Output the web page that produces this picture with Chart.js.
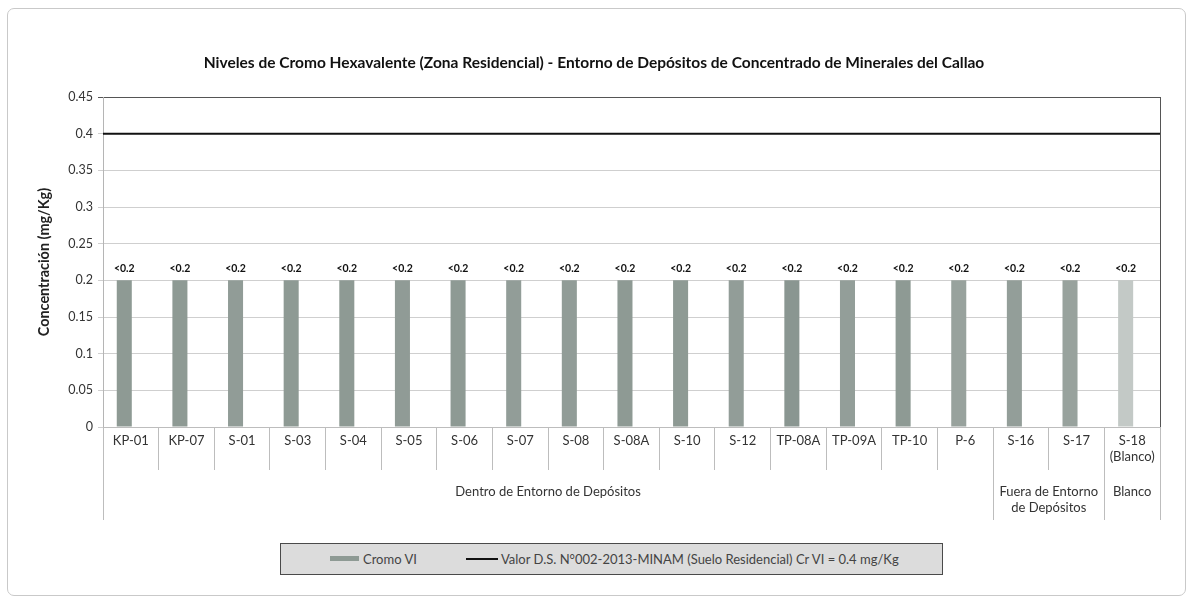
<!DOCTYPE html>
<html>
<head>
<meta charset="utf-8">
<script src="https://cdn.jsdelivr.net/npm/chart.js@4"></script>
<style>
  body { margin: 0; background: #fff; }
  #wrap { position: relative; width: 1193px; height: 604px; }
  #frame { position: absolute; left: 7px; top: 8px; width: 1177px; height: 586px;
           border: 1px solid #c9c9c9; border-radius: 7px; pointer-events: none; }
  #legend { position: absolute; left: 280px; top: 543px; width: 661px; height: 30px;
            background: #dcdcdc; border: 1px solid #4a4a4a; font: 13px Lato, sans-serif;
            color: #444; }
  #legend span { position: absolute; }
  .txt { top: 0; line-height: 30px; white-space: nowrap; }
</style>
</head>
<body>
<div id="wrap">
  <canvas id="chart" width="1193" height="604"></canvas>
  <div id="frame"></div>
  <div id="legend">
    <span id="sw1" style="left:49px;top:12px;width:29px;height:5px"></span>
    <span id="lg1" class="txt" style="left:82px"></span>
    <span id="sw2" style="left:185px;top:14px;width:32px;height:2px"></span>
    <span id="lg2" class="txt" style="left:220px"></span>
  </div>
</div>
<script>
const categories = ['KP-01', 'KP-07', 'S-01', 'S-03', 'S-04', 'S-05', 'S-06', 'S-07', 'S-08', 'S-08A',
  'S-10', 'S-12', 'TP-08A', 'TP-09A', 'TP-10', 'P-6', 'S-16', 'S-17', ['S-18', '(Blanco)']];
const cromoValues = [0.2, 0.2, 0.2, 0.2, 0.2, 0.2, 0.2, 0.2, 0.2, 0.2,
  0.2, 0.2, 0.2, 0.2, 0.2, 0.2, 0.2, 0.2, 0.2];
const valueLabels = ['<0.2', '<0.2', '<0.2', '<0.2', '<0.2', '<0.2', '<0.2', '<0.2', '<0.2', '<0.2',
  '<0.2', '<0.2', '<0.2', '<0.2', '<0.2', '<0.2', '<0.2', '<0.2', '<0.2'];
const barColors = ['#8e9a94', '#8e9a94', '#919c97', '#8e9a94', '#8e9a94', '#909b96', '#8e9a94', '#929d98', '#919c97', '#8e9a94',
  '#8e9a94', '#929d98', '#8a9691', '#939e99', '#8e9a94', '#98a29d', '#939e99', '#98a29d', '#c3c9c6'];
const limitValues = [0.4, 0.4];
const groupNames = ['Dentro de Entorno de Depósitos', ['Fuera de Entorno', 'de Depósitos'], 'Blanco'];
const groupStarts = [0, 16, 18];
const groupEnds = [16, 18, 19];

const seriesName = 'Cromo VI';
const limitName = 'Valor D.S. N°002-2013-MINAM (Suelo Residencial) Cr VI = 0.4 mg/Kg';
const chartTitle = 'Niveles de Cromo Hexavalente (Zona Residencial) - Entorno de Depósitos de Concentrado de Minerales del Callao';
const FONT = 'Lato';

document.getElementById('sw1').style.background = barColors[0];
document.getElementById('lg1').textContent = seriesName;
document.getElementById('sw2').style.background = '#111';
document.getElementById('lg2').textContent = limitName;

function boundaryX(scale, i) {
  const n = scale.ticks.length;
  if (i <= 0) return scale.left;
  if (i >= n) return scale.right;
  return (scale.getPixelForTick(i - 1) + scale.getPixelForTick(i)) / 2;
}

// second label row (groups) and the long separators
const groupPlugin = {
  id: 'groups',
  afterDraw(chart) {
    const x = chart.scales.x;
    const ctx = chart.ctx;
    ctx.save();
    ctx.strokeStyle = '#bdbdbd';
    ctx.lineWidth = 1;
    const edges = [0].concat(groupEnds);
    edges.forEach(i => {
      const px = Math.round(boundaryX(x, i)) + 0.5;
      ctx.beginPath();
      ctx.moveTo(px, x.top);
      ctx.lineTo(px, x.top + 93);
      ctx.stroke();
    });
    ctx.fillStyle = '#333';
    ctx.font = '13px ' + FONT;
    ctx.textAlign = 'center';
    ctx.textBaseline = 'middle';
    groupNames.forEach((name, g) => {
      const cx = (boundaryX(x, groupStarts[g]) + boundaryX(x, groupEnds[g])) / 2;
      const lines = Array.isArray(name) ? name : [name];
      lines.forEach((t, k) => ctx.fillText(t, cx, x.top + 65 + k * 16));
    });
    ctx.restore();
  }
};

const labelPlugin = {
  id: 'barLabels',
  afterDatasetsDraw(chart) {
    const meta = chart.getDatasetMeta(0);
    const ctx = chart.ctx;
    ctx.save();
    ctx.fillStyle = '#111';
    ctx.font = 'bold 10.5px ' + FONT;
    ctx.textAlign = 'center';
    ctx.textBaseline = 'bottom';
    meta.data.forEach((bar, i) => {
      ctx.fillText(valueLabels[i], bar.x, bar.y - 6);
    });
    ctx.restore();
  }
};

const ctx = document.getElementById('chart').getContext('2d');
const chart = new Chart(ctx, {
  type: 'bar',
  data: {
    labels: categories,
    datasets: [{
      type: 'bar',
      label: seriesName,
      data: cromoValues,
      backgroundColor: barColors,
      barPercentage: 1.15,
      categoryPercentage: 0.47,
      xAxisID: 'x',
      order: 2
    }, {
      type: 'line',
      label: limitName,
      data: limitValues,
      borderColor: '#111',
      borderWidth: 2,
      pointRadius: 0,
      fill: false,
      xAxisID: 'x2',
      order: 1
    }]
  },
  options: {
    responsive: false,
    animation: false,
    layout: { padding: { top: 0, left: 28, right: 33, bottom: 79 } },
    plugins: {
      legend: { display: false },
      tooltip: { enabled: false },
      title: {
        display: true,
        text: chartTitle,
        color: '#111',
        font: { family: FONT, size: 15.5, weight: 'bold' },
        padding: { top: 54, bottom: 24.4 }
      }
    },
    scales: {
      x: {
        type: 'category',
        offset: true,
        grid: { offset: true, drawOnChartArea: false, tickLength: 43, color: '#bdbdbd' },
        border: { color: '#bdbdbd' },
        ticks: { padding: -37, autoSkip: false, maxRotation: 0, color: '#333', font: { family: FONT, size: 13 } },
        afterFit: s => { s.height = 98; }
      },
      x2: {
        type: 'category',
        labels: ['a', 'b'],
        offset: false,
        display: false
      },
      y: {
        min: 0,
        max: 0.45,
        ticks: {
          stepSize: 0.05,
          padding: 5,
          color: '#333',
          font: { family: FONT, size: 12.5 },
          callback: v => String(+v.toFixed(2))
        },
        grid: {
          tickLength: 5,
          color: c => (c.tick && c.tick.value > 0.449) ? '#555' : '#cfcfcf'
        },
        border: { color: '#b5b5b5' },
        title: {
          display: true,
          text: 'Concentración (mg/Kg)',
          color: '#222',
          font: { family: FONT, size: 14.4, weight: 'bold' },
          padding: { top: 8, bottom: 4 }
        },
        afterFit: s => { s.width = 75; }
      },
      y2: {
        position: 'right',
        min: 0,
        max: 0.45,
        grid: { drawOnChartArea: false, drawTicks: false },
        ticks: { display: false },
        border: { color: '#555' },
        afterFit: s => { s.width = 0; }
      }
    }
  },
  plugins: [groupPlugin, labelPlugin]
});
</script>
</body>
</html>
